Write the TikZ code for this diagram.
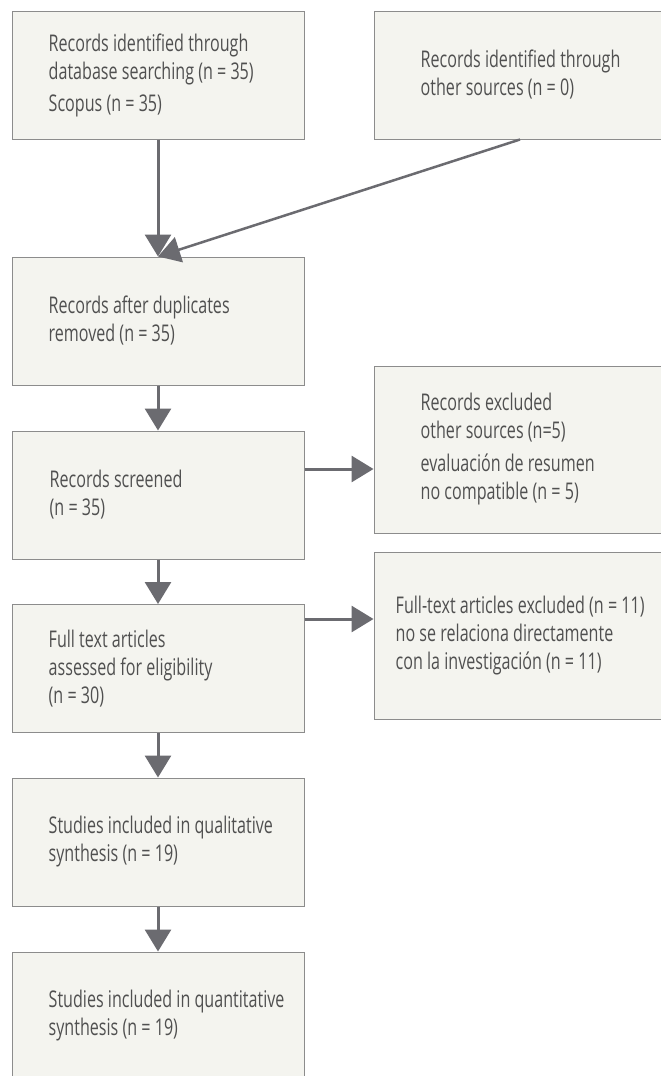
\documentclass[tikz,border=0pt]{standalone}
\usepackage{fontspec}
\usepackage{tikz}
\usetikzlibrary{positioning,arrows.meta}
\newfontfamily\prisma[FakeStretch=0.7]{Open Sans}
\definecolor{boxfill}{HTML}{F4F4EF}
\definecolor{boxline}{HTML}{8C8C8C}
\definecolor{arrgray}{HTML}{6B6B70}
\definecolor{txtgray}{HTML}{505050}
\tikzset{
  box/.style={draw=boxline, fill=boxfill, line width=1pt, minimum width=292pt, minimum height=128pt, inner sep=0pt},
  tallbox/.style={box, minimum height=167pt},
  txt/.style={inner sep=0pt, align=left, text=txtgray, font=\prisma\fontsize{23}{28}\selectfont},
  arr/.style={draw=arrgray, line width=3pt, -{Triangle[length=22pt,width=26pt]}}
}

\begin{document}
\begin{tikzpicture}[x=1pt,y=-1pt]
  \clip (0,0) rectangle (661,1076);
  \fill[white] (0,0) rectangle (661,1076);

  \node[box] (idb) at (158,75) {};
  \node[box] (oth) at (520,75) {};
  \node[box] (dup) at (158,321) {};
  \node[box] (scr) at (158,495) {};
  \node[tallbox] (excl) at (520,449.5) {};
  \node[box] (full) at (158,668.5) {};
  \node[tallbox] (ftex) at (520,635.5) {};
  \node[box] (qual) at (158,842) {};
  \node[box] (quant) at (158,1016) {};

  \node[txt, right=37pt of idb.west] (idbt) {Records identified through\\database searching (n = 35)\\[4pt]Scopus (n = 35)};
  \node[txt, right=47pt of oth.west] (otht) {Records identified through\\other sources (n = 0)};
  \node[txt, right=37pt of dup.west] (dupt) {Records after duplicates\\removed (n = 35)};
  \node[txt, right=38pt of scr.west] (scrt) {Records screened\\(n = 35)};
  \node[txt, right=47pt of excl.west] (exclt) {Records excluded\\other sources (n=5)\\[5pt]evaluación de resumen\\no compatible (n = 5)};
  \node[txt, right=37pt of full.west] (fullt) {Full text articles\\assessed for eligibility\\(n = 30)};
  \node[txt, right=22pt of ftex.west] (ftext) {Full-text articles excluded (n = 11)\\no se relaciona directamente\\con la investigación (n = 11)};
  \node[txt, right=37pt of qual.west] (qualt) {Studies included in qualitative\\synthesis (n = 19)};
  \node[txt, right=37pt of quant.west] (quantt) {Studies included in quantitative\\synthesis (n = 19)};

  \coordinate[yshift=26pt] (s1) at (scr.east);
  \coordinate[yshift=49.5pt] (s2) at (full.east);

  \draw[arr] (idb) -- (dup);
  \draw[arr, line width=2.5pt] (oth.south) -- (dup.north);
  \draw[arr] (dup) -- (scr);
  \draw[arr] (scr) -- (full);
  \draw[arr] (full) -- (qual);
  \draw[arr] (qual) -- (quant);
  \draw[arr] (s1) -- (s1 -| excl.west);
  \draw[arr] (s2) -- (s2 -| ftex.west);
\end{tikzpicture}
\end{document}
